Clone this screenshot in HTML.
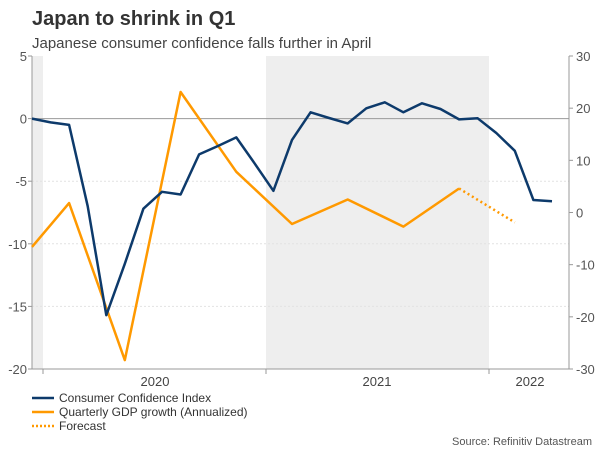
<!DOCTYPE html>
<html><head><meta charset="utf-8"><style>
html,body{margin:0;padding:0;background:#fff;}
svg{display:block;font-family:"Liberation Sans",Arial,sans-serif;}
</style></head><body>
<svg id="chart" width="600" height="450" viewBox="0 0 600 450">
<text x="32" y="25" font-size="20" font-weight="bold" fill="#333">Japan to shrink in Q1</text>
<text x="32" y="48" font-size="15" fill="#444">Japanese consumer confidence falls further in April</text>
<g id="plot"></g>
<g>
<g><line x1="32" y1="398" x2="54" y2="398" stroke="#0d3a6b" stroke-width="2.5"/><text x="59" y="402" font-size="12" fill="#333">Consumer Confidence Index</text></g>
<g><line x1="32" y1="412" x2="54" y2="412" stroke="#ff9900" stroke-width="2.5"/><text x="59" y="416" font-size="12" fill="#333">Quarterly GDP growth (Annualized)</text></g>
<g><line x1="32" y1="426" x2="54" y2="426" stroke="#ff9900" stroke-width="2.5" stroke-dasharray="2,2"/><text x="59" y="430" font-size="12" fill="#333">Forecast</text></g>
</g>
<text x="592" y="445" font-size="11" fill="#555" text-anchor="end">Source: Refinitiv Datastream</text>
</svg>
<script>
const cciValues = [0,-0.3,-0.5,-7,-15.7,-11.6,-7.2,-5.85,-6.06,-2.86,-2.2,-1.5,-3.6,-5.77,-1.7,0.5,0.05,-0.38,0.82,1.3,0.5,1.22,0.77,-0.06,0.02,-1.15,-2.57,-6.5,-6.6];
const gdpIndex = [0,2,5,8,11,14,17,20,23];
const gdpValues = [-6.6,1.8,-28.3,23.1,7.8,-2.2,2.5,-2.7,4.6];
const forecastIndex = [23,26];
const forecastValues = [4.6,-1.9];
const leftTicks = [5,0,-5,-10,-15,-20];
const rightTicks = [30,20,10,0,-10,-20,-30];
const yearLabels = ["2020","2021","2022"];

const NS="http://www.w3.org/2000/svg";
const g=document.getElementById('plot');
const X0=32,X1=569,YT=56,YB=369;
const xOf=i=>32+i*18.57;
const yL=v=>YT+(5-v)/25*(YB-YT);
const yR=v=>YT+(30-v)/60*(YB-YT);
function mk(t,a){const e=document.createElementNS(NS,t);for(const k in a)e.setAttribute(k,a[k]);g.appendChild(e);return e;}

let e;
e=mk('rect',{x:X0,y:YT,width:11,height:YB-YT,fill:'#eeeeee'});


e=mk('rect',{x:266,y:YT,width:223,height:YB-YT,fill:'#eeeeee'});



leftTicks.forEach(v=>{
  const y=yL(v);
  if(v!==0&&v!==5&&v!==-20){e=mk('line',{x1:X0,y1:y,x2:X1,y2:y,stroke:'#e2e2e2','stroke-width':1,'stroke-dasharray':'2,2'});
  
  }
  e=mk('line',{x1:X0-4,y1:y,x2:X0,y2:y,stroke:'#999'});
  
  
  e=mk('text',{x:X0-5,y:y+5,'font-size':13,fill:'#555','text-anchor':'end'});
  e.textContent=v;
  
  
});
e=mk('line',{x1:X0,y1:yL(0),x2:X1,y2:yL(0),stroke:'#999','stroke-width':1});


rightTicks.forEach(v=>{
  const y=yR(v);
  e=mk('line',{x1:X1,y1:y,x2:X1+4,y2:y,stroke:'#999'});
  
  
  e=mk('text',{x:X1+7,y:y+5,'font-size':13,fill:'#555'});
  e.textContent=v;
  
  
});
e=mk('line',{x1:X0,y1:YT,x2:X0,y2:YB,stroke:'#999'});


e=mk('line',{x1:X1,y1:YT,x2:X1,y2:YB,stroke:'#999'});


e=mk('line',{x1:X0,y1:YB,x2:X1,y2:YB,stroke:'#999'});


[43,266,489].forEach(x=>{e=mk('line',{x1:x,y1:YB,x2:x,y2:YB+5,stroke:'#999'});

});
const labX=[155,377,530];
yearLabels.forEach((t,i)=>{e=mk('text',{x:labX[i],y:386,'font-size':13,fill:'#444','text-anchor':'middle'});e.textContent=t;

});

const pts=(idx,vals,f)=>vals.map((v,i)=>xOf(idx[i]).toFixed(1)+','+f(v).toFixed(1)).join(' ');
e=mk('polyline',{points:pts(gdpIndex,gdpValues,yR),fill:'none',stroke:'#ff9900','stroke-width':2.5,'stroke-linejoin':'round'});


e=mk('polyline',{points:pts(forecastIndex,forecastValues,yR),fill:'none',stroke:'#ff9900','stroke-width':2.5,'stroke-dasharray':'2,3'});


e=mk('polyline',{points:pts(cciValues.map((_,i)=>i),cciValues,yL),fill:'none',stroke:'#0d3a6b','stroke-width':2.5,'stroke-linejoin':'round'});


</script>
</body></html>
